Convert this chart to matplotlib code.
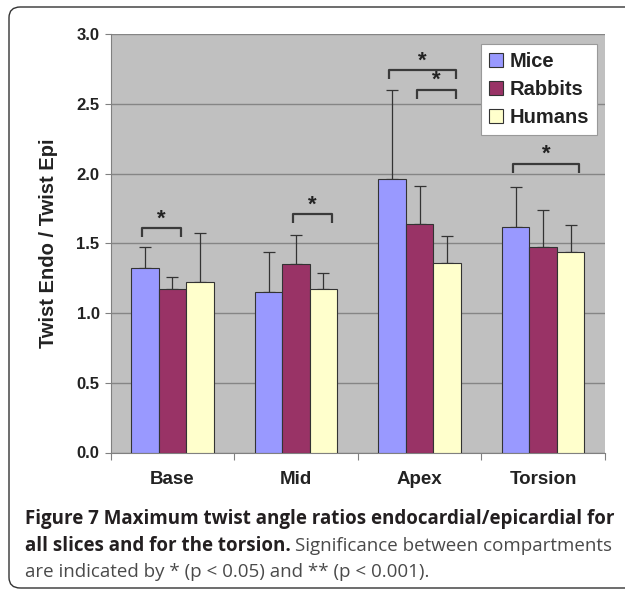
import matplotlib
matplotlib.use("Agg")
import matplotlib.pyplot as plt
import numpy as np
from matplotlib.patches import FancyBboxPatch, Patch

categories = ["Base", "Mid", "Apex", "Torsion"]
series = ["Mice", "Rabbits", "Humans"]
means = {
    "Mice":    [1.32, 1.15, 1.96, 1.62],
    "Rabbits": [1.17, 1.35, 1.64, 1.47],
    "Humans":  [1.22, 1.17, 1.36, 1.44],
}
upper_err = {
    "Mice":    [0.15, 0.29, 0.64, 0.28],
    "Rabbits": [0.09, 0.21, 0.27, 0.27],
    "Humans":  [0.35, 0.12, 0.19, 0.19],
}
colors = {"Mice": "#9999FF", "Rabbits": "#993366", "Humans": "#FFFFCC"}
yticks = [0.0, 0.5, 1.0, 1.5, 2.0, 2.5, 3.0]
# significance brackets: (category, first series, last series, bracket height)
brackets = [
    (0, 0, 1, 1.61),
    (1, 1, 2, 1.71),
    (2, 0, 2, 2.74),
    (2, 1, 2, 2.60),
    (3, 0, 2, 2.07),
]

W, H = 625, 591
fig = plt.figure(figsize=(W / 100, H / 100), dpi=100)
fig.patch.set_facecolor("white")

# rounded frame around figure + caption
frame = FancyBboxPatch((9 / W, 3 / H), 640 / W, 581 / H,
                       boxstyle="round,pad=0,rounding_size=0.018",
                       transform=fig.transFigure, fill=False,
                       edgecolor="#333333", linewidth=1.0)
fig.patches.append(frame)

ax = fig.add_axes([110.7 / W, (H - 452.5) / H, 494.3 / W, 418.5 / H])
ax.set_facecolor("#C0C0C0")

bw = 0.222
x = np.arange(len(categories)) + 0.5
for i, s in enumerate(series):
    xs = x + (i - 1) * bw
    ax.bar(xs, means[s], width=bw, color=colors[s], edgecolor="#333333",
           linewidth=0.8, zorder=3, label=s)
    ax.errorbar(xs, means[s], yerr=[np.zeros(len(categories)), upper_err[s]],
                fmt="none", ecolor="#333333", elinewidth=0.9, capsize=4.5,
                capthick=0.9, zorder=2)

for cat, a, b, h in brackets:
    x0 = x[cat] + (a - 1) * bw - 0.025
    x1 = x[cat] + (b - 1) * bw + 0.07
    leg_len = 0.065
    ax.plot([x0, x0, x1, x1], [h - leg_len, h, h, h - leg_len],
            color="#3a3a3a", linewidth=1.6, zorder=4, solid_capstyle="butt")
    ax.text((x0 + x1) / 2, h - 0.01, "*", ha="center", va="bottom",
            fontsize=16, fontweight="bold", color="#222222",
            family="Liberation Sans", zorder=4)

ax.set_xlim(0, 4)
ax.set_ylim(0, 3.0)
ax.set_yticks(yticks)
ax.set_yticklabels([f"{v:.1f}" for v in yticks], fontsize=12,
                   fontweight="bold", family="Liberation Sans",
                   color="#222222")
ax.yaxis.grid(True, color="#858585", linewidth=1.0, zorder=0)
ax.set_axisbelow(True)

ax.set_xticks([0, 1, 2, 3, 4])
ax.set_xticklabels([])
ax.set_xticks(x, minor=True)
ax.set_xticklabels(categories, minor=True, fontsize=13.5, fontweight="bold",
                   family="Liberation Sans", color="#222222")
ax.tick_params(axis="x", which="minor", length=0, pad=13)
ax.tick_params(axis="x", which="major", length=5, color="#808080")
ax.tick_params(axis="y", length=4, color="#808080", pad=4)
for side in ["top", "right"]:
    ax.spines[side].set_visible(False)
for side in ["left", "bottom"]:
    ax.spines[side].set_color("#808080")

ax.set_ylabel("Twist Endo / Twist Epi", fontsize=14.5, fontweight="bold",
              family="Liberation Sans", labelpad=13, color="#222222")

handles = [Patch(facecolor=colors[s], edgecolor="#333333", linewidth=0.8)
           for s in series]
leg = ax.legend(handles, series, loc="upper right",
                bbox_to_anchor=(0.984, 0.976), frameon=True, fancybox=False,
                edgecolor="#999999", framealpha=1.0, handlelength=0.7,
                handleheight=0.7, handletextpad=0.3, labelspacing=0.45,
                borderpad=0.4, borderaxespad=0.0,
                prop={"family": "Liberation Sans", "weight": "bold",
                      "size": 14.5})
leg.get_frame().set_linewidth(0.8)
for t in leg.get_texts():
    t.set_color("#222222")

# caption with mixed weights
cap_font = "Open Sans"
fs = 13.5
cx = 25
line_y = [519, 546, 572]
fig.text(cx / W, 1 - line_y[0] / H,
         "Figure 7 Maximum twist angle ratios endocardial/epicardial for",
         fontsize=fs, fontweight="bold", family=cap_font, color="#231F20",
         va="center")
t1 = fig.text(cx / W, 1 - line_y[1] / H, "all slices and for the torsion.",
              fontsize=fs, fontweight="bold", family=cap_font,
              color="#231F20", va="center")
fig.canvas.draw()
bb = t1.get_window_extent()
fig.text((bb.x1 + 4) / W, 1 - line_y[1] / H,
         "Significance between compartments", fontsize=fs,
         family=cap_font, color="#4a4a4a", va="center")
fig.text(cx / W, 1 - line_y[2] / H,
         "are indicated by * (p < 0.05) and ** (p < 0.001).", fontsize=fs,
         family=cap_font, color="#4a4a4a", va="center")

fig.savefig("out.png", dpi=100)
